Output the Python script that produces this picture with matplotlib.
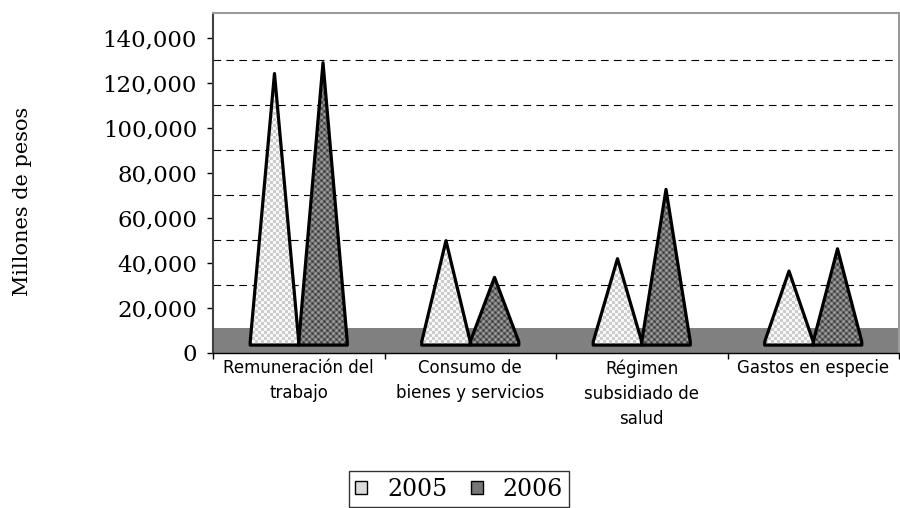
import numpy as np
import matplotlib
matplotlib.use("Agg")
import matplotlib.pyplot as plt
from matplotlib.path import Path
from matplotlib.patches import Polygon, Patch

# data (millones de pesos)
categories = ["Remuneración del\ntrabajo", "Consumo de\nbienes y servicios",
              "Régimen\nsubsidiado de\nsalud", "Gastos en especie"]
years = ["2005", "2006"]
v2005 = [124000, 49700, 41700, 36200]
v2006 = [128800, 33400, 72500, 46100]
yticks = [0, 20000, 40000, 60000, 80000, 100000, 120000, 140000]
grid_vals = [30000, 50000, 70000, 90000, 110000, 130000]  # back wall lines

floor_top = 10750
base = 3300
lip = 1500
half_w = 0.1415
ytop = 150900

plt.rcParams['lines.scale_dashes'] = False

fig = plt.figure(figsize=(9, 5.08), dpi=100)
ax = fig.add_axes([213 / 900, 155.5 / 508, 686 / 900, 339.5 / 508])
ax.set_xlim(0, 4)
ax.set_ylim(0, ytop)

# floor and back wall gridlines
ax.axhspan(0, floor_top, color='#808080', lw=0, zorder=1)
for g in grid_vals:
    ax.axhline(g, color='black', lw=0.8, ls=(0, (5.5, 3.8)), zorder=1)


def tri_path(cx, val):
    pts = [(cx - half_w, base), (cx - half_w, base + lip), (cx, val),
           (cx + half_w, base + lip), (cx + half_w, base), (cx - half_w, base)]
    return Path(pts, closed=True)


# textures (pixel sized)
h, w = 340, 686
ii, jj = np.indices((h, w))
tex05 = np.where(((ii // 3) + (jj // 3)) % 2 == 0, 0.97, 0.80)
tex06 = 0.48 + 0.22 * np.cos(2 * np.pi * ii / 6) * np.cos(2 * np.pi * jj / 6) \
    - 0.08 * (np.cos(2 * np.pi * (ii + jj) / 6) ** 2)

series = [(v2005, -1, tex05), (v2006, 1, tex06)]
for vals, side, tex in series:
    paths = []
    for i, v in enumerate(vals):
        cx = i + 0.5 + side * half_w
        p = tri_path(cx, v)
        paths.append(p)
        ax.add_patch(Polygon(p.vertices[:-1], closed=True, fill=False,
                             edgecolor='black', lw=2.3, joinstyle='round', zorder=4))
    im = ax.imshow(tex, cmap='gray', vmin=0, vmax=1, extent=[0, 4, 0, ytop],
                   origin='lower', aspect='auto', interpolation='nearest', zorder=3)
    im.set_clip_path(Path.make_compound_path(*paths), transform=ax.transData)

# axes styling
for s in ['top', 'right']:
    ax.spines[s].set_color('#9a9a9a')
    ax.spines[s].set_linewidth(1.5)
ax.spines['left'].set_color('#404040')
ax.spines['left'].set_linewidth(1.5)
ax.spines['bottom'].set_color('black')
ax.spines['bottom'].set_linewidth(1.0)

ax.set_yticks(yticks)
ax.set_yticklabels([f"{t:,}" for t in yticks], family='DejaVu Serif', fontsize=16.5)
ax.tick_params(axis='y', direction='out', length=4.5, width=1, pad=7, color='black')

ax.set_xticks([0, 1, 2, 3, 4])
ax.set_xticklabels([])
ax.set_xticks([0.5, 1.5, 2.5, 3.5], minor=True)
ax.set_xticklabels(categories, minor=True, family='DejaVu Sans', fontsize=12,
                   linespacing=1.5, va='top')
ax.tick_params(axis='x', which='major', direction='out', length=4.5, width=1)
ax.tick_params(axis='x', which='minor', length=0, pad=5)

ax.text(-0.277, 0.446, "Millones de pesos", transform=ax.transAxes, rotation=90,
        ha='center', va='center', family='DejaVu Serif', fontsize=15)

handles = [Patch(facecolor='#dadada', edgecolor='black', lw=1),
           Patch(facecolor='#767676', edgecolor='black', lw=1)]
leg = fig.legend(handles, years, loc='upper center', bbox_to_anchor=(0.51, 37 / 508),
                 ncol=2, frameon=True, fancybox=False, edgecolor='black',
                 prop={'family': 'DejaVu Serif', 'size': 17}, handlelength=0.5,
                 handleheight=0.5, handletextpad=0.85, columnspacing=1.0,
                 borderpad=0.28, borderaxespad=0)
leg.get_frame().set_linewidth(1.0)

fig.savefig("out.png", dpi=100)
